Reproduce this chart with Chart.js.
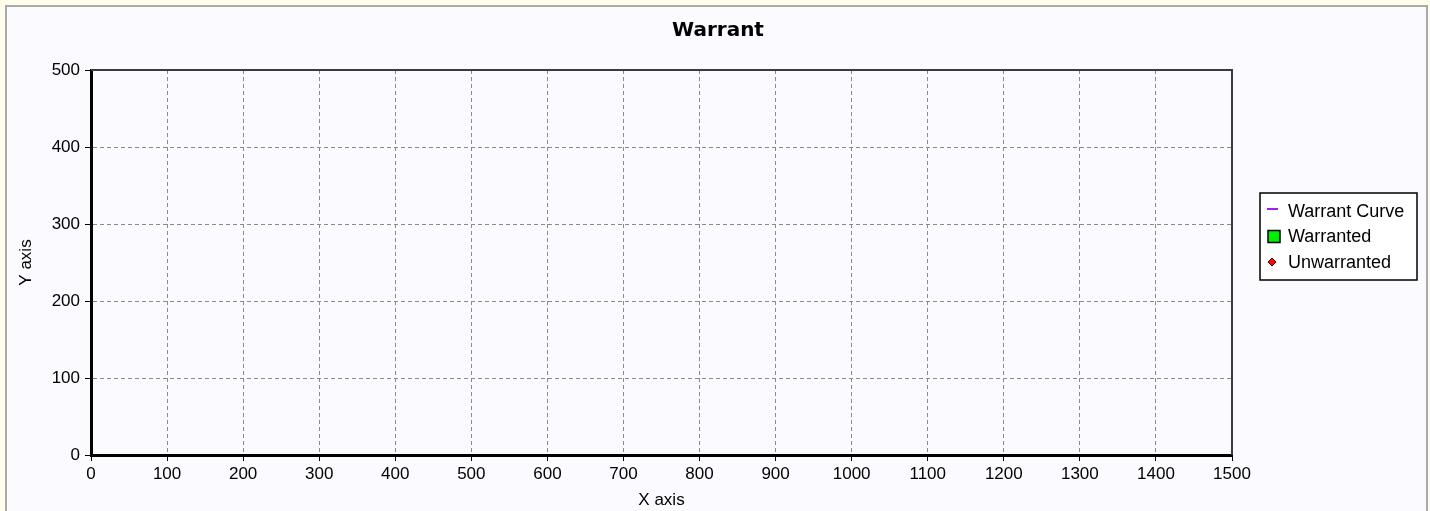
<!DOCTYPE html>
<html lang="en">
  <head>
    <meta charset="UTF-8">
    <title>Warrant</title>
    <script src="https://cdn.jsdelivr.net/npm/chart.js"></script>
    <style>
      html, body { margin: 0; padding: 0; background: #fffde9; overflow: hidden; }
      #frame {
        position: absolute; left: 5px; top: 5px; width: 1419px; height: 520px;
        border: 2px solid #a9a9a9; background: #fafaff;
      }
      #myChart { position: absolute; left: 0; top: 0; }
    </style>
  </head>
  <body>
    <div id="frame"></div>
    <canvas id="myChart" width="1430" height="511"></canvas>
    <script>
        // series (the chart has no points plotted)
        const warrantCurve = [];
        const warranted = [];
        const unwarranted = [];

        const chartTitle = 'Warrant';
        const seriesNames = ['Warrant Curve', 'Warranted', 'Unwarranted'];
        const xTicks = [0, 100, 200, 300, 400, 500, 600, 700, 800, 900, 1000, 1100, 1200, 1300, 1400, 1500];
        const yTicks = [0, 100, 200, 300, 400, 500];

        const tickFont = { family: 'Liberation Sans, Arial, sans-serif', size: 17 };

        // title across the whole frame, top/right frame of the plot, boxed legend
        const extras = {
          id: 'extras',
          afterDraw(chart) {
            const c = chart.ctx;
            const a = chart.chartArea;
            c.save();
            c.fillStyle = '#000';
            c.font = 'bold 20px DejaVu Sans, sans-serif';
            c.textAlign = 'center';
            c.textBaseline = 'middle';
            c.fillText(chartTitle, 718, 31);

            c.strokeStyle = '#3a3a3a';
            c.lineWidth = 2;
            c.beginPath();
            c.moveTo(a.left, a.top);
            c.lineTo(a.right, a.top);
            c.lineTo(a.right, a.bottom);
            c.stroke();

            // legend
            const lx = 1260, ly = 193, lw = 157, lh = 87;
            c.fillStyle = '#ffffff';
            c.fillRect(lx, ly, lw, lh);
            c.strokeStyle = '#000';
            c.lineWidth = 1.5;
            c.strokeRect(lx, ly, lw, lh);
            c.font = '18px Liberation Sans, Arial, sans-serif';
            c.textAlign = 'left';
            c.textBaseline = 'middle';
            chart.data.datasets.forEach((ds, i) => {
              const y = ly + 19 + i * 25.5;
              if (ds.type === 'line') {
                c.strokeStyle = ds.borderColor;
                c.lineWidth = 2;
                c.beginPath();
                c.moveTo(lx + 7, y - 3);
                c.lineTo(lx + 18, y - 3);
                c.stroke();
              } else if (ds.pointStyle === 'rect') {
                c.fillStyle = ds.backgroundColor;
                c.fillRect(lx + 8, y - 7, 12, 12);
                c.strokeStyle = '#000';
                c.lineWidth = 1.5;
                c.strokeRect(lx + 8, y - 7, 12, 12);
              } else {
                c.fillStyle = ds.backgroundColor;
                c.strokeStyle = '#400';
                c.lineWidth = 1;
                c.beginPath();
                c.moveTo(lx + 12, y - 5);
                c.lineTo(lx + 16, y - 1);
                c.lineTo(lx + 12, y + 3);
                c.lineTo(lx + 8, y - 1);
                c.closePath();
                c.fill();
                c.stroke();
              }
              c.fillStyle = '#000';
              c.fillText(ds.label, lx + 28, y);
            });
            c.restore();
          }
        };

        new Chart(document.getElementById('myChart'), {
          type: 'scatter',
          data: {
            datasets: [
              { type: 'line', label: seriesNames[0], data: warrantCurve, borderColor: '#a020f0', borderWidth: 2, pointRadius: 0 },
              { label: seriesNames[1], data: warranted, pointStyle: 'rect', backgroundColor: '#00ee00', borderColor: '#000' },
              { label: seriesNames[2], data: unwarranted, pointStyle: 'rectRot', backgroundColor: '#ff0000', borderColor: '#400' }
            ]
          },
          options: {
            responsive: false,
            devicePixelRatio: 1,
            animation: false,
            layout: { padding: { left: 0, right: 198, top: 70, bottom: 0 } },
            plugins: {
              legend: { display: false },
              tooltip: { enabled: false },
              title: { display: false }
            },
            scales: {
              x: {
                type: 'linear',
                min: xTicks[0],
                max: xTicks[xTicks.length - 1],
                afterBuildTicks: (s) => { s.ticks = xTicks.map(v => ({ value: v })); },
                afterFit: (s) => { s.height = 56; },
                ticks: { color: '#000', font: tickFont, padding: 3, maxRotation: 0, autoSkip: false, callback: (v) => String(v) },
                grid: { color: '#8a8a8a', lineWidth: 1, tickLength: 6, tickColor: '#000', tickWidth: 1 },
                border: { display: true, color: '#000', width: 3, dash: [4, 3] },
                title: { display: true, text: 'X axis', color: '#000', font: { family: 'Liberation Sans, Arial, sans-serif', size: 17 }, padding: { top: 0, bottom: 0 } }
              },
              y: {
                type: 'linear',
                min: yTicks[0],
                max: yTicks[yTicks.length - 1],
                afterBuildTicks: (s) => { s.ticks = yTicks.map(v => ({ value: v })); },
                afterFit: (s) => { s.width = 91; },
                ticks: { color: '#000', font: tickFont, padding: 5, callback: (v) => String(v) },
                grid: { color: '#8a8a8a', lineWidth: 1, tickLength: 6, tickColor: '#000', tickWidth: 1 },
                border: { display: true, color: '#000', width: 3, dash: [4, 3] },
                title: { display: true, text: 'Y axis', color: '#000', font: { family: 'Liberation Sans, Arial, sans-serif', size: 17 }, padding: { top: 16, bottom: 0 } }
              }
            }
          },
          plugins: [extras]
        });
    </script>
  </body>
</html>
